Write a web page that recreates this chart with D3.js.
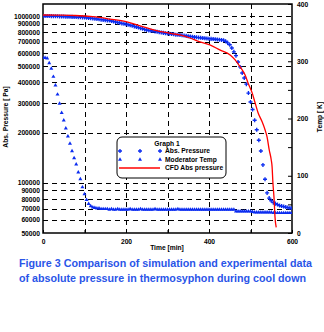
<!DOCTYPE html>
<html><head><meta charset="utf-8">
<script src="https://cdn.jsdelivr.net/npm/d3@7"></script>
<style>body{margin:0;background:#fff}svg{display:block}text{font-family:"Liberation Sans",Arial,sans-serif}</style>
</head><body><svg id="c" width="324" height="332"></svg>
<script>
// ---- data ----
const times = [0,5,10,15,20,25,30,35,40,45,50,55,60,65,70,75,80,85,90,95,100,
105,110,115,120,125,130,135,140,145,150,155,160,165,170,175,180,185,190,195,200,
205,210,215,220,225,230,235,240,245,250,255,260,265,270,275,280,285,290,295,300,
305,310,315,320,325,330,335,340,345,350,355,360,365,370,375,380,385,390,395,400,
405,410,415,420,425,430,435,440,445,450,455,460,465,470,475,480,485,490,495,500,
505,510,515,520,525,530,535,540,545,550,555,560,565,570,575,580,585,590,595,600];
// Abs. pressure, kPa
const absPressure = [1000,1000,1000,999,998,997,996,995,994,993,992,991,990,989,988,986,985,983,982,981,979,
976,973,970,967,963,960,955,951,947,944,941,939,933,927,921,915,909,903,898,893,
887,880,873,866,859,852,845,838,831,824,820,816,812,808,804,800,796,792,788,785,
782,779,776,773,771,769,766,763,760,757,754,751,748,745,742,740,737,735,733,731,
729,727,725,723,721,719,716,706,690,672,643,610,578,530,495,455,425,390,345,305,
275,237,208,180,155,128,105,87,81,78,76,75,74,73,72.5,72,71.5,71,70.5,70.3];
// Moderator temperature, K
const moderatorTemp = [306,306,305,297,287,273,258,242,226,210,197,183,169,156,143,131,120,106,94,80,68,
58,51,47,45,44,43,43,42,42,42,42,41,42,41,41,42,41,41,41,41,
41,42,41,41,41,41,42,41,41,41,41,41,41,42,41,41,41,41,41,41,
41,41,41,41,42,41,41,41,41,41,41,41,41,41,41,41,41,41,41,41,
41,41,41,41,41,41,41,41,41,41,41,41,38,38,38,38,38,38,38,38,
37,36,36,36,36,36,36,36,36,36,35,35,35,35,35,35,35,35,35,35];
// CFD abs pressure (kPa)
const cfdTime = [0,40,77,120,161,200,234,260,289,310,330,354,378,402,426,451,463,475,487,494,504,511,518,528,535,540,545,550,552,554,557,559,562];
const cfdPressure = [1014,1012,1007,990,959,925,871,835,802,785,770,738,699,671,626,584,545,495,443,397,346,302,264,232,208,188,158,137,125,100,79,62.5,54];

const pGridTicks = [1000000,900000,800000,700000,600000,500000,400000,300000,200000,100000,90000,80000,70000,60000];
const pTickLabels = ["1000000","900000","800000","700000","600000","500000","400000","300000","200000","100000","90000","80000","70000","60000","50000"];
const pTickValues = [1000000,900000,800000,700000,600000,500000,400000,300000,200000,100000,90000,80000,70000,60000,50000];
const xTicks = [0,100,200,300,400,500,600];
const xLabelTicks = [0,200,400,600];
const tTicks = [0,50,100,150,200,250,300,350,400];
const tLabelTicks = [0,100,200,300,400];
const legendItems = ["Abs. Pressure","Moderator Temp","CFD Abs pressure"];
const caption = ["Figure 3 Comparison of simulation and experimental data","of absolute pressure in thermosyphon during cool down"];

// ---- chart ----
const svg = d3.select("#c");
const L=43,R=292,T=4,B=233;
const x = d3.scaleLinear([0,600],[L,R]);
const yP = d3.scaleLog([50000,1180000],[B,T]);
const yT = d3.scaleLinear([0,400],[B,T]);
const blue = "#0b2cf0", red = "#ff0000";

// grid
const g = svg.append("g").attr("stroke","#000").attr("stroke-width",1).attr("stroke-dasharray","5,4");
g.selectAll("line.h").data(pGridTicks).join("line").attr("class","h")
  .attr("x1",L).attr("x2",R).attr("y1",d=>Math.round(yP(d))+0.5).attr("y2",d=>Math.round(yP(d))+0.5);
g.selectAll("line.v").data([100,200,300,400,500]).join("line").attr("class","v")
  .attr("y1",T).attr("y2",B).attr("x1",d=>Math.round(x(d))+0.5).attr("x2",d=>Math.round(x(d))+0.5);

// axes
const fs = "6.7px";
const ax = svg.append("g").attr("transform",`translate(0,${B})`)
  .call(d3.axisBottom(x).tickValues(xTicks).tickSize(-3).tickPadding(6)
    .tickFormat(d=>xLabelTicks.includes(d)?d:""));
const ay = svg.append("g").attr("transform",`translate(${L},0)`)
  .call(d3.axisLeft(yP).tickValues(pTickValues).tickSize(0).tickPadding(3)
    .tickFormat((d,i)=>pTickLabels[i]));
const ar = svg.append("g").attr("transform",`translate(${R},0)`)
  .call(d3.axisRight(yT).tickValues(tTicks).tickSize(-4).tickPadding(5)
    .tickFormat(d=>tLabelTicks.includes(d)?d:""));
[ax,ay,ar].forEach(a=>{
  a.select(".domain").remove();
  a.selectAll("text").attr("font-size",fs).attr("font-weight","bold").attr("fill","#000").attr("font-family","Liberation Sans, Arial, sans-serif");
  a.selectAll("line").attr("stroke","#000");
});

// frame
svg.append("rect").attr("x",L).attr("y",T).attr("width",R-L).attr("height",B-T)
  .attr("fill","none").attr("stroke","#000").attr("stroke-width",1.5);

// clip
svg.append("clipPath").attr("id","clip").append("rect").attr("x",L).attr("y",T).attr("width",R-L).attr("height",B-T);
const plot = svg.append("g").attr("clip-path","url(#clip)");

// temperature markers
const triSym = d3.symbol().type(d3.symbolTriangle).size(7);
plot.append("g").selectAll("path").data(times.map((t,i)=>[t,moderatorTemp[i]])).join("path")
  .attr("d",triSym).attr("fill",blue)
  .attr("transform",d=>`translate(${x(d[0])},${yT(d[1])})`);

// pressure markers
const crossSym = d3.symbol().type(d3.symbolCross).size(9);
plot.append("g").selectAll("path").data(times.map((t,i)=>[t,absPressure[i]*1000])).join("path")
  .attr("d",crossSym).attr("fill",blue)
  .attr("transform",d=>`translate(${x(d[0])},${yP(d[1])})`);

// CFD line
plot.append("path").datum(cfdTime.map((t,i)=>[t,cfdPressure[i]*1000]))
  .attr("fill","none").attr("stroke",red).attr("stroke-width",1.3)
  .attr("d",d3.line().x(d=>x(d[0])).y(d=>yP(d[1])).curve(d3.curveMonotoneX));

// axis titles
const tf = {"font-size":fs,"font-weight":"bold","fill":"#000"};
function st(sel,o){for(const k in o) sel.attr(k,o[k]); return sel;}
st(svg.append("text").attr("x",167).attr("y",250).attr("text-anchor","middle").text("Time [min]"),tf);
st(svg.append("text").attr("transform","translate(8,117) rotate(-90)").attr("text-anchor","middle").text("Abs. Pressure [ Pa]"),tf);
st(svg.append("text").attr("transform","translate(322,117) rotate(-90)").attr("text-anchor","middle").text("Temp [ K]"),tf);

// legend
const lg = svg.append("g");
lg.append("rect").attr("x",117).attr("y",137).attr("width",109).attr("height",41).attr("rx",5)
  .attr("fill","#fff").attr("stroke","#000").attr("stroke-width",1);
st(lg.append("text").attr("x",167).attr("y",146).attr("text-anchor","middle").text("Graph 1"),tf);
const ly = [151,159.5,168];
[120,140,160].forEach(px=>{
  lg.append("path").attr("d",crossSym).attr("fill",blue).attr("transform",`translate(${px},${ly[0]})`);
  lg.append("path").attr("d",triSym).attr("fill",blue).attr("transform",`translate(${px},${ly[1]})`);
});
lg.append("line").attr("x1",119).attr("x2",160).attr("y1",ly[2]).attr("y2",ly[2]).attr("stroke",red).attr("stroke-width",1.3);
legendItems.forEach((s,i)=>st(lg.append("text").attr("x",165).attr("y",ly[i]+2.3).text(s),tf));

// caption
caption.forEach((s,i)=>{
  svg.append("text").attr("x",19).attr("y",267+i*15).attr("font-size","11px").attr("font-weight","bold")
    .attr("fill","#2a55e8").attr("textLength",i===0?293:287).attr("lengthAdjust","spacingAndGlyphs").text(s);
});
</script></body></html>
